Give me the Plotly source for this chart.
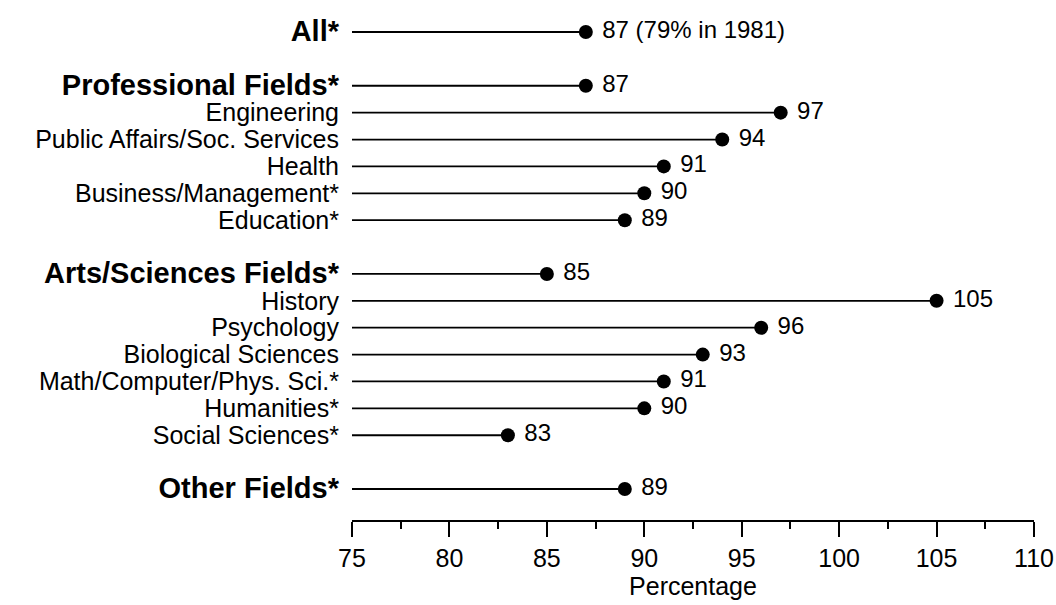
import plotly.graph_objects as go

# Field categories (group headings listed in HEADINGS) and their percentages
categories = [
    "All*",
    "Professional Fields*",
    "Engineering",
    "Public Affairs/Soc. Services",
    "Health",
    "Business/Management*",
    "Education*",
    "Arts/Sciences Fields*",
    "History",
    "Psychology",
    "Biological Sciences",
    "Math/Computer/Phys. Sci.*",
    "Humanities*",
    "Social Sciences*",
    "Other Fields*",
]
values = [87, 87, 97, 94, 91, 90, 89, 85, 105, 96, 93, 91, 90, 83, 89]
HEADINGS = {"All*", "Professional Fields*", "Arts/Sciences Fields*", "Other Fields*"}
notes = {"All*": "(79% in 1981)"}

x_ticks = [75, 80, 85, 90, 95, 100, 105, 110]
x_start = 75

# Row positions: one blank row before each group heading (except the first)
rows = []
pos = 0
for i, c in enumerate(categories):
    if i > 0 and c in HEADINGS:
        pos += 1
    rows.append(pos)
    pos += 1
last_row = rows[-1]

FONT = "Liberation Sans, Arial, Helvetica, sans-serif"

# Stems from the axis origin to each value
line_x, line_y = [], []
for r, v in zip(rows, values):
    line_x += [x_start, v, None]
    line_y += [r, r, None]

labels = [
    "\u00a0" + (f"{v} {notes[c]}" if c in notes else f"{v}")
    for c, v in zip(categories, values)
]

fig = go.Figure()
fig.add_trace(go.Scatter(
    x=line_x, y=line_y, mode="lines",
    line=dict(color="black", width=1.8),
    hoverinfo="skip", showlegend=False,
))
fig.add_trace(go.Scatter(
    x=values, y=rows, mode="markers+text",
    marker=dict(color="black", size=14),
    text=labels, textposition="middle right",
    textfont=dict(family=FONT, size=24, color="black"),
    cliponaxis=False, showlegend=False,
))

ticktext = [
    f"<b><span style='font-size:29px'>{c}</span></b>" if c in HEADINGS else c
    for c in categories
]

# row 0 sits 32 px from the top, the last row at 489 px, the x axis line at 520 px
top_px, bot_px, axis_px = 32, 489, 520
per_row = (bot_px - top_px) / last_row
y_top = -top_px / per_row
y_bot = (axis_px - top_px) / per_row

fig.update_layout(
    width=1056, height=605,
    margin=dict(l=352, r=22, t=0, b=605 - axis_px),
    paper_bgcolor="white", plot_bgcolor="white",
    font=dict(family=FONT, size=25, color="black"),
    xaxis=dict(
        range=[x_ticks[0], x_ticks[-1]],
        tickvals=x_ticks,
        ticks="outside", ticklen=15, tickwidth=1.5, tickcolor="black",
        minor=dict(dtick=2.5, ticks="outside", ticklen=7, tickwidth=1.5, tickcolor="black"),
        showline=True, linecolor="black", linewidth=1.5,
        showgrid=False, zeroline=False,
        tickfont=dict(size=25),
        ticklabeloverflow="allow",
        title=dict(text="Percentage", font=dict(size=25), standoff=4),
    ),
    yaxis=dict(
        range=[y_bot, y_top],
        tickvals=rows, ticktext=ticktext,
        ticks="", showline=False, showgrid=False, zeroline=False,
        tickfont=dict(size=25),
        ticklabelstandoff=12,
    ),
)

fig.write_html("out.html")
